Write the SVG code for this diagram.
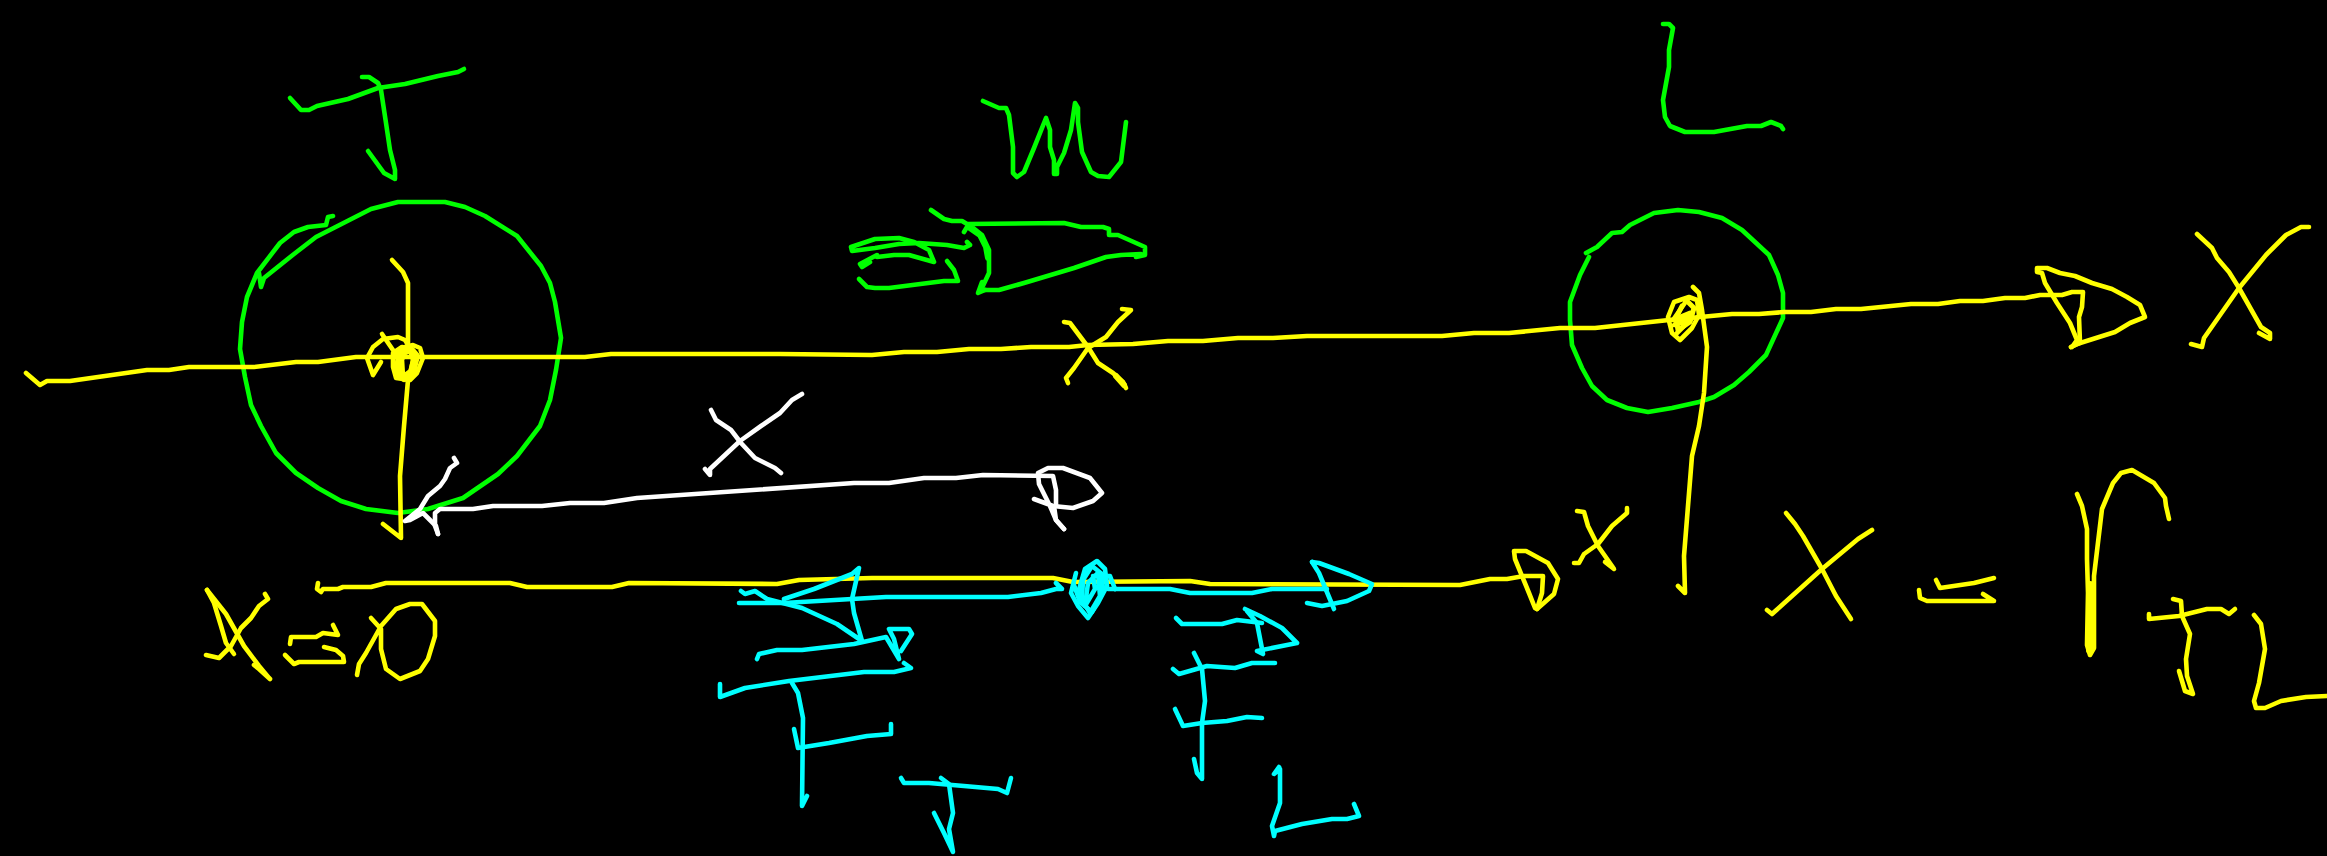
<svg xmlns="http://www.w3.org/2000/svg" width="2327" height="856" viewBox="0 0 2327 856">
<style>
polyline{fill:none;stroke-width:4.6;stroke-linecap:round;stroke-linejoin:round}
polyline.t{stroke-width:8}
.g polyline{stroke:#00ff00}
.y polyline{stroke:#ffff00}
.c polyline{stroke:#00ffff}
.w polyline{stroke:#ffffff}
</style>
<rect width="2327" height="856" fill="#000000"/>
<g class="g">
<polyline points="290,98 301,110 309,110 317,106 348,99 378,88 405,84 438,76 458,72 464,69"/>
<polyline points="362,77 369,77 378,83 381,90 386,123 390,150 395,170 395,179 384,173 368,151"/>
<polyline points="333,216 328,217 326,225 308,227 294,232 280,243 257,273 247,297 242,322 240,349 245,377 251,405 261,426 276,453 296,473 318,488 341,501 366,509 398,513 428,509 463,498 498,474 517,456 540,426 550,400 556,370 561,338 555,302 550,283 541,266 517,236 485,216 465,207 445,202 398,202 371,209 316,237 294,254 264,278 261,287 259,273"/>
<polyline points="983,101 999,108 1006,108 1009,115 1013,147 1013,173 1017,177 1024,172 1034,148 1046,118 1050,130 1050,147 1054,160 1054,174 1057,174 1057,167 1064,153 1071,130 1075,103 1078,108 1078,122 1082,152 1091,172 1098,176 1109,177 1121,162 1126,122"/>
<polyline points="931,210 944,219 952,221 962,221 967,224 1064,223 1081,227 1103,227 1109,229 1109,235 1118,235 1145,247 1145,255 1136,257 1141,254 1121,255 1106,257 1074,268 1024,283 999,290 981,290 989,273 989,250 982,235 972,227 967,227 964,232"/>
<polyline class="t" points="970,228 980,235 986,247 988,258" style="stroke-width:6"/>
<polyline points="982,282 978,293 985,290"/>
<polyline points="967,242 970,245 964,248 947,245 919,243 899,244 875,248 852,251 851,247 875,239 899,238 914,242 929,250 934,262 909,255 894,255 877,257 877,255 860,264 862,267 870,262"/>
<polyline points="859,279 867,287 875,288 889,288 944,281 958,281 954,270 947,261"/>
<polyline points="1663,24 1669,24 1673,28 1669,50 1669,67 1663,100 1665,117 1670,126 1685,132 1714,132 1747,126 1761,126 1771,122 1781,126 1783,129"/>
<polyline points="1586,253 1597,247 1612,233 1622,232 1630,225 1654,213 1678,210 1699,212 1722,218 1742,230 1769,255 1778,275 1783,293 1783,318 1766,355 1749,372 1734,385 1714,397 1699,402 1672,408 1648,412 1627,408 1607,400 1592,386 1582,368 1572,345 1570,320 1570,302 1580,275 1589,257"/>
</g>
<g class="y">
<polyline points="26,373 40,385 47,381 70,381 147,370 169,370 189,367 254,367 296,362 318,362 356,357 585,357 611,354 780,354 872,355 904,352 937,352 969,349 1001,349 1031,347 1069,347 1088,345 1133,344 1168,341 1203,341 1238,338 1273,338 1307,336 1442,336 1474,333 1509,333 1560,328 1595,328 1669,320 1732,314 1759,314 1784,312 1811,312 1836,309 1861,309 1911,304 1938,304 1960,301 1983,301 2005,298 2025,298 2040,295 2062,295 2072,292 2083,292 2082,307 2079,317 2080,343 2071,347"/>
<polyline points="2071,347 2077,344 2115,332 2130,323 2145,317 2140,305 2127,297 2112,289 2092,283 2075,276 2060,273 2047,268 2037,268 2037,272 2042,273 2045,283 2057,303 2070,323 2077,340 2072,347"/>
<polyline points="382,334 395,353 405,347 413,345 420,348 423,358 417,373 410,380 396,378 393,367 393,353 402,347 410,350 413,360 410,375 403,377 402,360 406,348"/>
<polyline class="t" points="400,352 398,372 404,378 412,372 416,356 410,349 403,352"/>
<polyline points="381,362 373,375 367,358 373,347 383,339 398,337 405,340 410,348"/>
<polyline points="392,260 403,272 408,283 408,347"/>
<polyline points="408,380 404,426 400,476 401,538 383,524"/>
<polyline points="1064,322 1070,323 1088,347 1098,363 1113,373 1123,382 1126,388"/>
<polyline class="t" points="1116,376 1124,385" style="stroke-width:6"/>
<polyline points="1122,309 1131,310 1118,322 1106,337 1088,348 1074,368 1066,378 1068,383"/>
<polyline points="1693,287 1699,293 1702,310 1707,347 1704,393 1699,426 1692,456 1684,556 1685,593 1678,586"/>
<polyline points="1689,297 1674,302 1668,317 1672,333 1680,340 1692,328 1699,315 1697,300 1689,297 1680,310 1673,320 1690,313 1674,325 1690,320 1677,333"/>
<polyline class="t" points="1682,306 1676,318 1678,330 1690,322 1694,308 1688,302" style="stroke-width:5"/>
<polyline points="2197,234 2212,248 2217,258 2229,272 2239,288 2261,327 2270,333 2270,339 2259,333"/>
<polyline points="2309,227 2301,227 2286,235 2266,255 2239,288 2204,338 2202,347 2191,344"/>
<polyline points="318,583 317,589 321,592 323,589 338,589 343,587 371,587 386,583 510,583 527,587 612,587 629,583 777,584 799,580 872,578 1053,578 1073,582 1190,581 1210,584 1460,585 1490,579 1507,579 1524,576 1543,576 1542,593 1537,609"/>
<polyline points="1537,609 1554,594 1558,579 1548,563 1526,551 1514,551 1515,559 1529,593 1535,608"/>
<polyline points="1577,511 1584,512 1588,526 1598,546 1612,566 1614,569 1605,562"/>
<polyline points="1627,508 1627,513 1612,526 1598,544 1584,554 1579,563 1574,563"/>
<polyline points="1786,513 1795,524 1803,536 1822,569 1836,596 1851,619"/>
<polyline points="1872,530 1858,539 1822,569 1772,614 1767,610"/>
<polyline points="1936,580 1940,588 1974,583 1994,578"/>
<polyline points="1919,590 1920,598 1927,601 1994,601 1983,594"/>
<polyline points="2077,494 2082,506 2087,529 2087,559 2088,593 2087,645 2090,655 2094,648 2094,576 2102,509 2113,483 2121,473 2132,470 2154,483 2165,498 2166,506 2169,519"/>
<polyline class="t" points="2090,585 2090,650"/>
<polyline points="2149,614 2149,619 2179,616 2207,609 2221,609 2229,614 2235,609"/>
<polyline points="2173,599 2181,601 2182,616 2190,634 2186,659 2187,676 2193,694 2185,691 2179,671"/>
<polyline points="2254,615 2261,624 2265,649 2259,683 2254,701 2256,708 2265,708 2281,701 2306,697 2327,696"/>
<polyline points="207,590 214,603 221,626 226,643 234,654"/>
<polyline points="207,590 226,614 244,646 259,666 269,678 270,679 259,669 254,665"/>
<polyline points="265,594 268,599 259,606 251,618 241,628 231,646 219,658 206,655"/>
<polyline points="290,644 291,637 316,637 323,633 338,635 333,625"/>
<polyline points="285,655 294,664 299,662 344,662 343,656 336,650 324,647"/>
<polyline points="371,618 381,629 381,649 386,669 400,679 420,671 428,659 435,636 435,621 422,604 410,604 396,609 381,626 366,653 359,664 357,675"/>
</g>
<g class="w">
<polyline points="711,410 716,420 731,430 741,443 755,458 775,468 781,473"/>
<polyline points="802,394 792,400 780,413 761,426 740,441 725,455 710,469 710,475 705,469"/>
<polyline points="454,458 457,463 450,468 445,479 440,486 428,496 420,509 405,521 410,520 423,513 433,523 436,526 438,534"/>
<polyline points="438,534 435,526 435,513 440,509 473,509 493,506 542,506 570,503 604,503 637,498 854,483 889,483 924,478 956,478 983,475 1053,476 1056,490 1056,505 1054,506 1056,520 1064,529"/>
<polyline points="1034,499 1053,506 1073,508 1093,501 1102,493 1090,478 1063,468 1048,468 1038,473 1039,484 1050,506 1056,520 1064,529"/>
</g>
<g class="c">
<polyline points="739,603 784,603 852,599 886,597 1008,597 1041,593 1056,589 1062,589 1056,583"/>
<polyline points="741,591 745,594 755,591 767,599 802,608 837,624 862,641 854,613 852,599 859,568 852,574 814,589 784,599"/>
<polyline points="1076,573 1071,593 1078,606 1088,618 1098,603 1107,586 1105,569 1097,561 1085,569 1078,593 1090,613 1100,596 1098,573 1088,583 1085,606 1095,589 1093,576 1110,576 1115,589"/>
<polyline points="1074,585 1080,602 1092,612 1103,592 1102,574 1092,566 1083,580 1082,598"/>
<polyline points="1108,589 1170,589 1190,593 1252,593 1272,589 1327,589"/>
<polyline points="1312,562 1319,563 1349,574 1372,584 1369,591 1347,601 1322,606 1307,603"/>
<polyline points="1312,562 1319,573 1334,609"/>
<polyline points="757,659 759,654 777,650 802,650 854,644 886,637 899,659 894,639 889,629 909,629 912,634 901,651"/>
<polyline points="720,684 720,697 745,688 789,681 864,672 894,672 911,668 904,663"/>
<polyline points="792,683 798,693 803,718 802,806 807,796"/>
<polyline points="794,729 798,748 829,743 867,736 891,734 891,724"/>
<polyline points="901,778 904,783 929,783 964,786 998,789 1007,793 1011,778"/>
<polyline points="941,778 949,784 953,813 949,829 953,852 944,833 934,813"/>
<polyline points="1176,618 1182,624 1222,624 1237,620 1262,623"/>
<polyline points="1245,609 1260,616 1282,628 1297,643 1282,646 1257,651 1263,654 1257,623 1247,611"/>
<polyline points="1173,669 1179,674 1207,666 1235,668 1252,663 1275,663"/>
<polyline points="1194,653 1202,669 1205,701 1202,723 1202,779 1197,773 1194,759"/>
<polyline points="1175,709 1183,726 1202,723 1227,721 1247,717 1262,718"/>
<polyline points="1279,767 1274,774 1280,769 1280,803 1272,826 1274,836 1275,831 1302,824 1332,819 1347,819 1359,816 1354,804"/>
</g>
</svg>
